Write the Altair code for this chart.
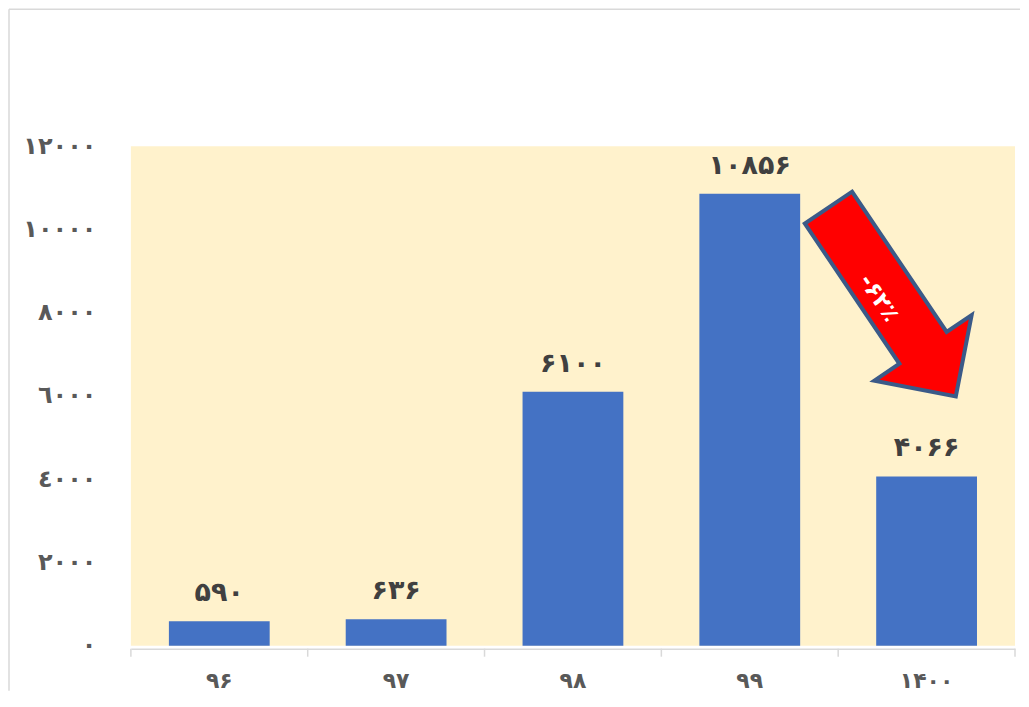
import altair as alt
import pandas as pd

# ---- data ----
years = ["۹۶", "۹۷", "۹۸", "۹۹", "۱۴۰۰"]
values = [590, 636, 6100, 10856, 4066]
value_labels = ["۵۹۰", "۶۳۶", "۶۱۰۰", "۱۰۸۵۶", "۴۰۶۶"]
y_ticks = [0, 2000, 4000, 6000, 8000, 10000, 12000]
y_tick_labels = ["۰", "۲۰۰۰", "٤۰۰۰", "٦۰۰۰", "۸۰۰۰", "۱۰۰۰۰", "۱۲۰۰۰"]
change_label = "-۶۲٪"
annot_year = "۱۴۰۰"
annot_value = 8256

df = pd.DataFrame({"year": years, "value": values, "label": value_labels})

W, H = 885, 500
FONT = "DejaVu Sans"

label_expr = " : ".join(
    f"datum.value == {v} ? '{t}'" for v, t in zip(y_ticks, y_tick_labels)
) + " : ''"

x_enc = alt.X("year:N", sort=years,
              scale=alt.Scale(paddingInner=0, paddingOuter=0),
              axis=alt.Axis(title=None, labelAngle=0, ticks=False,
                            domainColor="#D9D9D9", domainWidth=1.5, offset=3,
                            labelFont=FONT, labelFontSize=22, labelFontWeight="bold",
                            labelColor="#595959", labelPadding=22))
y_scale = alt.Scale(domain=[0, 12000], nice=False)

bars = alt.Chart(df).mark_bar(color="#4472C4", width=alt.RelativeBandSize(0.57)).encode(
    x=x_enc,
    y=alt.Y("value:Q", scale=y_scale,
            axis=alt.Axis(title=None, values=y_ticks, labelExpr=label_expr,
                          domain=False, ticks=False, grid=False,
                          labelFont=FONT, labelFontSize=24, labelFontWeight="bold",
                          labelColor="#595959", labelPadding=35)),
)

texts = alt.Chart(df).mark_text(dy=-28, font=FONT, fontSize=27, fontWeight="bold",
                                color="#404040", baseline="middle").encode(
    x=alt.X("year:N", sort=years),
    y=alt.Y("value:Q"),
    text="label:N",
)

ticks = alt.Chart(df).mark_rule(color="#D9D9D9", strokeWidth=1.5).encode(
    x=alt.X("year:N", sort=years, bandPosition=0),
    y=alt.value(H + 3), y2=alt.value(H + 11),
)
end_tick = alt.Chart(df.tail(1)).mark_rule(color="#D9D9D9", strokeWidth=1.5).encode(
    x=alt.X("year:N", sort=years, bandPosition=1),
    y=alt.value(H + 3), y2=alt.value(H + 11),
)

arrow_df = pd.DataFrame({"year": [annot_year], "value": [annot_value], "label": [change_label]})
arrow_path = "M -1 -0.25 L 0.485 -0.25 L 0.485 -0.515 L 1 0 L 0.485 0.515 L 0.485 0.25 L -1 0.25 Z"
arrow = alt.Chart(arrow_df).mark_point(
    shape=arrow_path, filled=True, fill="#FF0000", stroke="#3B5A88", strokeWidth=4,
    opacity=1, size=52000, angle=56, xOffset=-34.5, clip=False,
).encode(x=alt.X("year:N", sort=years), y=alt.Y("value:Q"))

arrow_text = alt.Chart(arrow_df).mark_text(
    font=FONT, fontSize=23, fontWeight="bold", color="white", angle=56,
    align="center", baseline="middle", xOffset=-48, yOffset=-4,
).encode(x=alt.X("year:N", sort=years), y=alt.Y("value:Q"), text="label:N")

border_top = alt.Chart(df.head(1)).mark_rule(color="#D9D9D9", strokeWidth=1.5).encode(
    x=alt.value(-122), x2=alt.value(890), y=alt.value(-137))
border_left = alt.Chart(df.head(1)).mark_rule(color="#D9D9D9", strokeWidth=1.5).encode(
    x=alt.value(-122), y=alt.value(-137), y2=alt.value(545))

chart = alt.layer(border_top, border_left, bars, texts, ticks, end_tick, arrow, arrow_text).properties(
    width=W, height=H, padding=0, background="white"
).configure_view(fill="#FFF2CC", stroke=None)

chart.save("out.html", embed_options={"renderer": "svg", "actions": False})
